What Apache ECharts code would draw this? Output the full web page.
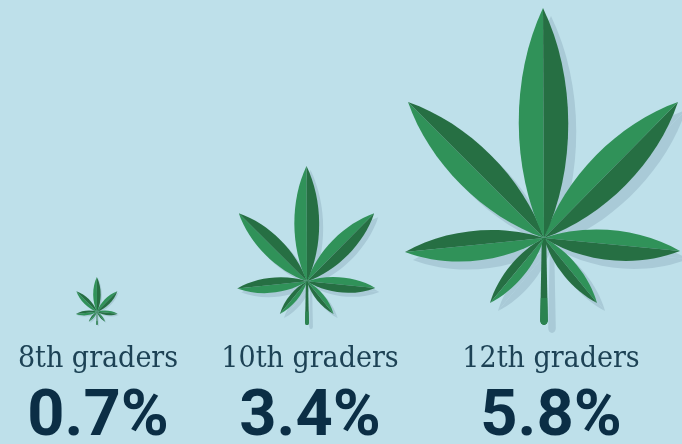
<!DOCTYPE html>
<html>
<head>
<meta charset="utf-8">
<title>Marijuana use by grade</title>
<script src="https://cdn.jsdelivr.net/npm/echarts@6/dist/echarts.min.js"></script>
<style>
  html, body { margin: 0; padding: 0; background: #bee0ea; }
  #grafico { width: 682px; height: 444px; }
</style>
</head>
<body>
<div id="grafico"></div>
<script>
// Chart data
const grados = ['8th graders', '10th graders', '12th graders'];
const porcentajes = [0.7, 3.4, 5.8];

// Colours
const FONDO = '#bee0ea';
const HOJA_CLARA = '#309259';
const HOJA_OSCURA = '#266f43';
const SOMBRA = '#a9cad7';
const TEXTO_GRADO = '#1d4255';
const TEXTO_VALOR = '#0b2e45';

// Leaf glyph, drawn around the hub: [tipX, tipY, width of the light side, width of the dark side]
const PETALOS = [
    [-54, 65, 11, 11],
    [53, 65, 11, 11],
    [-139, 14, 21, 19],
    [136, 13, 19, 21],
    [-136, -136, 28, 28],
    [134, -136, 28, 28],
    [-1, -230, 33, 33]
];
const ALTO_HOJA = 317;
const BAJO_HUB = 87;

// Half of a petal, on side lado (-1 or 1) of the midrib
function mediaHoja(p, lado) {
    const tx = p[0], ty = p[1];
    const L = Math.sqrt(tx * tx + ty * ty);
    const nx = -ty / L * lado, ny = tx / L * lado;
    const k = lado < 0 ? p[2] : p[3];
    const c1x = tx * 0.3 + nx * k, c1y = ty * 0.3 + ny * k;
    const c2x = tx * 0.7 + nx * k, c2y = ty * 0.7 + ny * k;
    return 'M0 0C' + c1x + ' ' + c1y + ' ' + c2x + ' ' + c2y + ' ' + tx + ' ' + ty + 'Z';
}

const TALLO = 'M-2.2 0L2.2 0L3.8 82A3.8 5 0 0 1 -3.8 82Z';
const TALLO_BAJO = 'M-3.2 60L3.2 60L3.8 82A3.8 5 0 0 1 -3.8 82Z';

function dibujarHoja(params, api) {
    const base = api.coord([api.value(0), 0]);
    const tope = api.coord([api.value(0), api.value(1)]);
    const escala = (base[1] - tope[1]) / ALTO_HOJA;
    const hijos = [];

    // shadow first, then the leaf over it
    const sombra = [{ type: 'path', shape: { pathData: TALLO }, style: { fill: SOMBRA } }];
    PETALOS.forEach(p => {
        sombra.push({ type: 'path', shape: { pathData: mediaHoja(p, -1) }, style: { fill: SOMBRA } });
        sombra.push({ type: 'path', shape: { pathData: mediaHoja(p, 1) }, style: { fill: SOMBRA } });
    });
    hijos.push({ type: 'group', x: 8, y: 8, children: sombra });

    hijos.push({ type: 'path', shape: { pathData: TALLO }, style: { fill: HOJA_OSCURA } });
    hijos.push({ type: 'path', shape: { pathData: TALLO_BAJO }, style: { fill: '#2b8350' } });
    PETALOS.forEach(p => {
        hijos.push({ type: 'path', shape: { pathData: mediaHoja(p, -1) }, style: { fill: HOJA_CLARA } });
        hijos.push({ type: 'path', shape: { pathData: mediaHoja(p, 1) }, style: { fill: HOJA_OSCURA } });
    });

    return {
        type: 'group',
        x: base[0],
        y: base[1] - BAJO_HUB * escala,
        scaleX: escala,
        scaleY: escala,
        children: hijos
    };
}

// One grid per leaf: the box gives the leaf size and where its stem stands
const cajas = [
    { left: 75, width: 44, top: 277, height: 48, corrimiento: 1 },
    { left: 237, width: 140, top: 166, height: 159, corrimiento: 3 },
    { left: 406, width: 276, top: 8, height: 317, corrimiento: 7 }
];

const chart = echarts.init(document.getElementById('grafico'), null, { renderer: 'canvas' });
chart.setOption({
    backgroundColor: FONDO,
    animation: false,
    grid: cajas.map(c => ({ left: c.left, width: c.width, top: c.top, height: c.height, outerBoundsMode: 'none' })),
    xAxis: cajas.map((c, i) => ({
        type: 'category',
        gridIndex: i,
        data: [grados[i]],
        axisLine: { show: false },
        axisTick: { show: false },
        axisLabel: {
            interval: 0,
            margin: 14,
            padding: [0, 0, 0, c.corrimiento * 2],
            formatter: nombre => '{g|' + nombre + '}\n{v|' + porcentajes[i] + '%}',
            rich: {
                g: { fontFamily: 'DejaVu Serif Condensed', fontSize: 30, color: TEXTO_GRADO, lineHeight: 40, align: 'center' },
                v: { fontFamily: 'Roboto', fontWeight: 'bold', fontSize: 65, color: TEXTO_VALOR, lineHeight: 80, align: 'center' }
            }
        }
    })),
    yAxis: cajas.map((c, i) => ({
        type: 'value',
        gridIndex: i,
        show: false,
        min: 0,
        max: porcentajes[i]
    })),
    series: cajas.map((c, i) => ({
        type: 'custom',
        xAxisIndex: i,
        yAxisIndex: i,
        clip: false,
        renderItem: dibujarHoja,
        data: [[0, porcentajes[i]]]
    }))
});
</script>
</body>
</html>
